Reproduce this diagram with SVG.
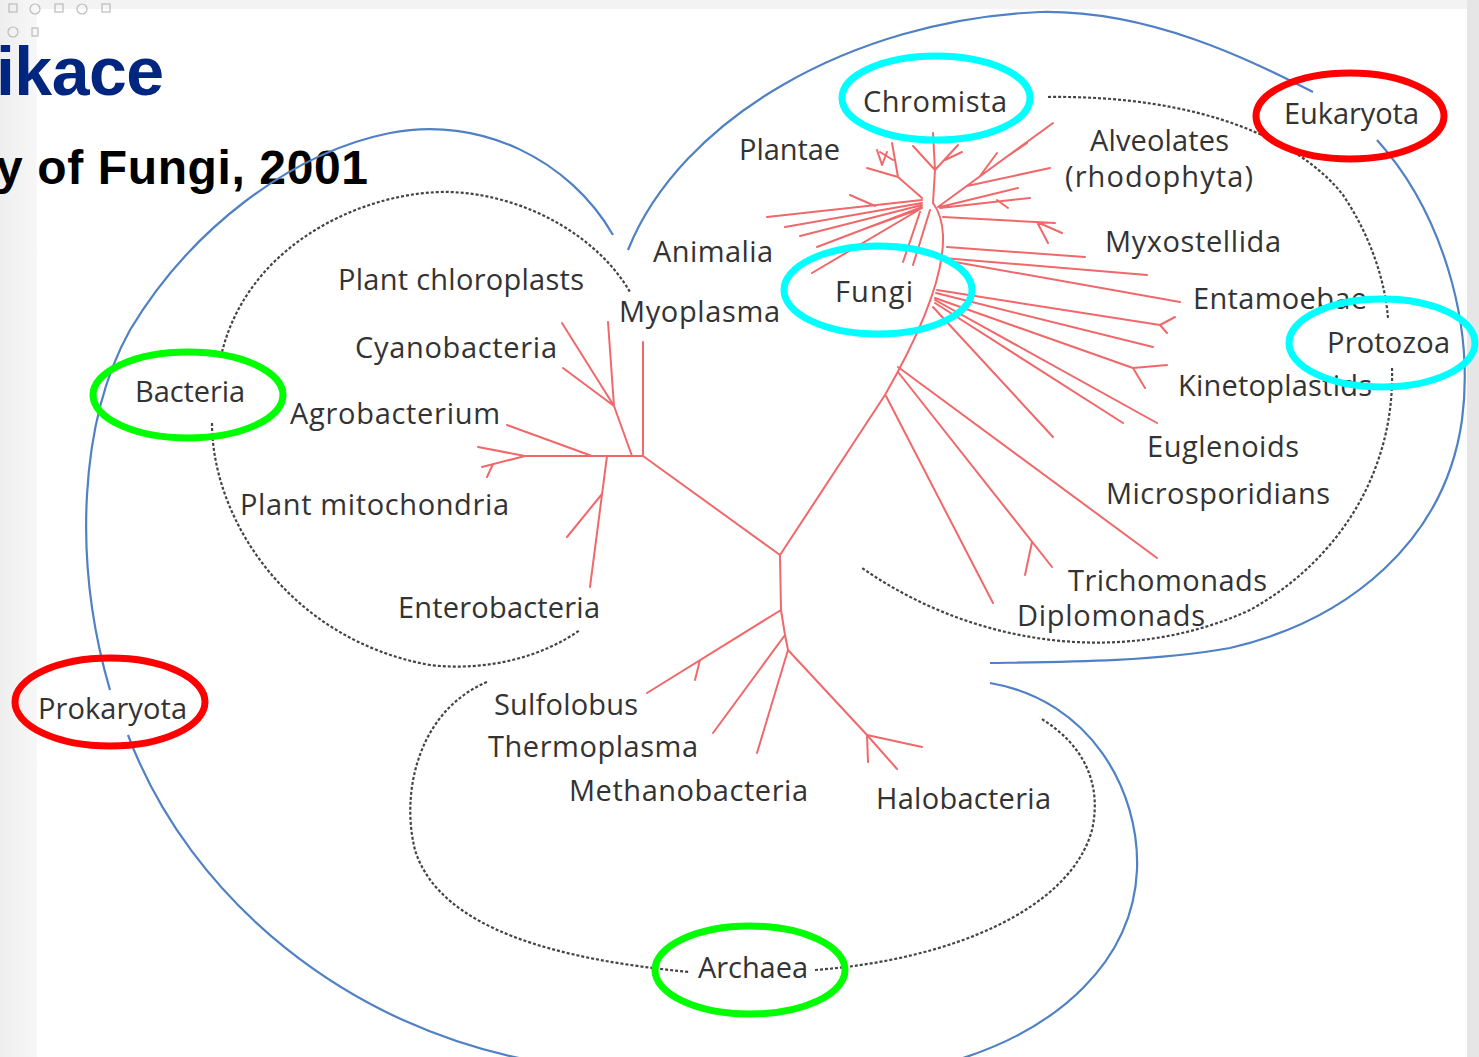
<svg xmlns="http://www.w3.org/2000/svg" width="1479" height="1057" viewBox="0 0 1479 1057">
<defs>
<linearGradient id="lg" x1="0" y1="0" x2="1" y2="0"><stop offset="0" stop-color="#eeeeee"/><stop offset="1" stop-color="#f7f7f7"/></linearGradient>
</defs>
<style>
.lbl{font-family:"Open Sans","Noto Sans",sans-serif;font-size:29px;fill:#333333}
.blue{fill:none;stroke:#4f81c4;stroke-width:2.2}
.dot{fill:none;stroke:#444444;stroke-width:2.2;stroke-dasharray:3 2}
.tree{fill:none;stroke:#f0686a;stroke-width:2;stroke-linecap:round;stroke-linejoin:round}
.ec{fill:none;stroke:#00ffff;stroke-width:7}
.er{fill:none;stroke:#ff0000;stroke-width:7}
.eg{fill:none;stroke:#00ff00;stroke-width:7}
.icon{fill:none;stroke:#bbbbbb;stroke-width:1.2}
</style>
<rect x="0" y="0" width="1479" height="1057" fill="#f3f3f3"/>
<rect x="0" y="0" width="37" height="1057" fill="url(#lg)"/>
<rect x="1467" y="0" width="12" height="1057" fill="#e6e6e6"/>
<rect x="37" y="9" width="1430" height="1048" fill="#ffffff"/>
<g id="icons">
<rect class="icon" x="9" y="4" width="8" height="8"/>
<circle class="icon" cx="35" cy="9" r="5"/>
<rect class="icon" x="55" y="4" width="8" height="8"/>
<circle class="icon" cx="82" cy="9" r="5"/>
<rect class="icon" x="102" y="4" width="8" height="8"/>
<circle class="icon" cx="13" cy="32" r="5"/>
<rect class="icon" x="32" y="28" width="6" height="8"/>
</g>
<g id="title">
<text x="-4" y="95" font-family="'Liberation Sans',Arial,sans-serif" font-weight="bold" font-size="68" fill="#00267f" textLength="168">ikace</text>
<text x="-4" y="184" font-family="'Liberation Sans',Arial,sans-serif" font-weight="bold" font-size="48" fill="#000000" textLength="372">y of Fungi, 2001</text>
</g>
<g id="boundaries">
<path class="blue" d="M613,235 C570,160 480,115 390,133 C290,153 190,230 130,330 C80,420 72,560 110,690"/>
<path class="blue" d="M128,735 C190,900 350,1030 540,1062"/>
<path class="blue" d="M628,250 C680,120 850,20 1040,12 C1150,10 1250,60 1313,92"/>
<path class="blue" d="M1377,140 C1440,210 1475,320 1462,420 C1445,540 1350,620 1230,648 C1150,662 1060,662 990,663"/>
<path class="blue" d="M990,683 C1090,700 1140,790 1137,870 C1133,960 1060,1030 950,1062"/>
<path class="dot" d="M222,352 C250,240 370,190 450,192 C530,195 600,240 630,292"/>
<path class="dot" d="M212,423 C212,520 290,640 430,665 C490,672 545,655 580,630"/>
<path class="dot" d="M1048,97 C1200,95 1300,140 1343,195 C1370,235 1385,280 1388,318"/>
<path class="dot" d="M1392,368 C1395,470 1340,560 1250,610 C1130,665 980,650 862,568"/>
<path class="dot" d="M487,682 C420,710 400,790 415,850 C440,930 560,960 690,972"/>
<path class="dot" d="M815,970 C950,960 1070,910 1092,830 C1102,785 1085,745 1040,718"/>
</g>
<g id="connectors">
<path class="tree" d="M780,555 L643,456 M643,456 L643,342 M643,456 L525,456 M632,456 L614,406 M614,406 L562,323 M614,406 L608,322 M614,406 L563,368 M525,456 L478,447 M525,456 L482,467 M493,464 L487,477 M592,456 L507,425 M607,456 L590,587 M602,494 L567,537"/>
<path class="tree" d="M780,555 L781,610 M781,610 L647,693 M700,660 L695,680 M781,610 L785,635 L788,650 L867,735 M785,635 L713,733 M788,650 L757,753 M867,735 L922,747 M867,735 L897,769 M867,735 L868,762"/>
<path class="tree" d="M780,555 L885,395 Q945,290 943,235 Q942,215 933,203"/>
<path class="tree" d="M898,367 L1157,558 M898,372 L1052,567 M1032,542 L1025,575 M886,396 L993,603 M933,307 L1053,437 M935,303 L1123,423 M935,300 L1157,423 M935,298 L1133,368 L1167,365 M1133,368 L1145,388 M937,290 L1160,325 M1160,325 L1175,317 M1160,325 L1167,333 M936,293 L1153,347 M943,258 L1147,275 M955,262 L1180,302 M947,247 L1085,257 M943,217 L1055,223 M1037,222 L1062,233 M1037,222 L1048,243"/>
<path class="tree" d="M933,203 L935,170 M935,170 L913,146 M935,170 L933,133 M935,170 L958,145 M945,160 L962,152 M922,198 L898,177 L892,143 M898,177 L867,168 M893,160 L880,152 M882,165 L877,150 M882,165 L887,152"/>
<path class="tree" d="M922,200 L767,217 M875,206 L850,195 M922,203 L785,227 M922,205 L800,236 M922,207 L817,247 M922,208 L812,273 M917,210 L867,228 M920,212 L903,262 M930,210 L913,265"/>
<path class="tree" d="M938,207 L1053,123 M967,186 L1050,168 M980,176 L997,153 M1005,158 L1027,143 M940,208 L1030,198 M940,207 L1018,188 M997,200 L1008,208"/>
</g>
<g id="labels">
<text class="lbl" x="739" y="160" textLength="101">Plantae</text>
<text class="lbl" x="1090" y="151" textLength="139">Alveolates</text>
<text class="lbl" x="1065" y="187" textLength="188">(rhodophyta)</text>
<text class="lbl" x="653" y="262" textLength="120">Animalia</text>
<text class="lbl" x="1105" y="252" textLength="176">Myxostellida</text>
<text class="lbl" x="338" y="290" textLength="246">Plant chloroplasts</text>
<text class="lbl" x="619" y="322" textLength="161">Myoplasma</text>
<text class="lbl" x="1193" y="309" textLength="174">Entamoebae</text>
<text class="lbl" x="355" y="358" textLength="202">Cyanobacteria</text>
<text class="lbl" x="1178" y="396" textLength="194">Kinetoplastids</text>
<text class="lbl" x="290" y="424" textLength="210">Agrobacterium</text>
<text class="lbl" x="1147" y="457" textLength="152">Euglenoids</text>
<text class="lbl" x="1106" y="504" textLength="224">Microsporidians</text>
<text class="lbl" x="240" y="515" textLength="269">Plant mitochondria</text>
<text class="lbl" x="1068" y="591" textLength="199">Trichomonads</text>
<text class="lbl" x="398" y="618" textLength="202">Enterobacteria</text>
<text class="lbl" x="1017" y="626" textLength="188">Diplomonads</text>
<text class="lbl" x="494" y="715" textLength="144">Sulfolobus</text>
<text class="lbl" x="488" y="757" textLength="210">Thermoplasma</text>
<text class="lbl" x="569" y="801" textLength="239">Methanobacteria</text>
<text class="lbl" x="876" y="809" textLength="175">Halobacteria</text>
</g>
<g id="chromista"><text class="lbl" x="863" y="112" textLength="144">Chromista</text><ellipse class="ec" cx="936" cy="98" rx="94" ry="42"/></g>
<g id="eukaryota"><text class="lbl" x="1284" y="124" textLength="135">Eukaryota</text><ellipse class="er" cx="1350" cy="116" rx="94" ry="43"/></g>
<g id="fungi"><text class="lbl" x="835" y="302" textLength="78">Fungi</text><ellipse class="ec" cx="878" cy="290" rx="94" ry="44"/></g>
<g id="protozoa"><text class="lbl" x="1327" y="353" textLength="123">Protozoa</text><ellipse class="ec" cx="1382" cy="343" rx="93" ry="44"/></g>
<g id="bacteria"><text class="lbl" x="135" y="402" textLength="110">Bacteria</text><ellipse class="eg" cx="188" cy="395" rx="95" ry="43"/></g>
<g id="prokaryota"><text class="lbl" x="38" y="719" textLength="149">Prokaryota</text><ellipse class="er" cx="110" cy="702" rx="95" ry="44"/></g>
<g id="archaea"><text class="lbl" x="698" y="978" textLength="110">Archaea</text><ellipse class="eg" cx="750" cy="970" rx="95" ry="44"/></g>
</svg>
